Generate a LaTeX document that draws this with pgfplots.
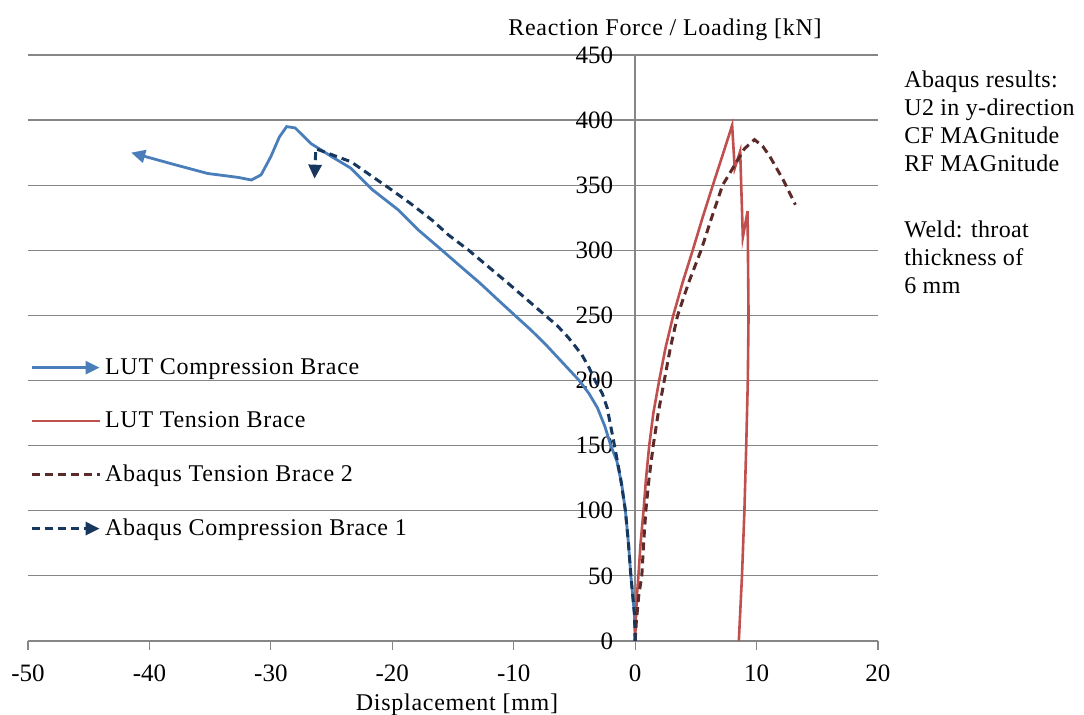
\documentclass[border=0pt]{standalone}
\usepackage{fontspec}
\setmainfont{Liberation Serif}
\usepackage{pgfplots}
\pgfplotsset{compat=1.18}
\usetikzlibrary{arrows.meta}

\definecolor{lutblue}{RGB}{74,126,187}
\definecolor{lutred}{RGB}{192,80,77}
\definecolor{abqred}{RGB}{92,42,42}
\definecolor{abqnavy}{RGB}{23,55,94}
\definecolor{gridgray}{RGB}{134,134,134}

\newcommand{\chfont}{\fontsize{12}{14}\selectfont\addfontfeatures{LetterSpace=3}}
\newcommand{\notefont}{\fontsize{12}{14}\selectfont\addfontfeatures{LetterSpace=1.5}}
\newcommand{\tkfont}{\fontsize{12.5}{14}\selectfont}

\begin{document}
\begin{tikzpicture}
\begin{axis}[
  at={(0,0)}, anchor=south west,
  scale only axis,
  width=425pt, height=293pt,
  xmin=-50, xmax=20, ymin=0, ymax=450,
  axis x line=bottom, axis y line=middle,
  hide obscured x ticks=false, hide obscured y ticks=false,
  axis line style={-, draw=gridgray, line width=0.8pt},
  xtick={-50,-40,...,20}, ytick={0,50,...,450},
  tick align=outside,
  major tick length=4.5pt,
  tick style={draw=gridgray, line width=0.6pt},
  ymajorgrids,
  grid style={draw=gridgray, line width=0.6pt},
  /pgf/number format/assume math mode=true,
  tick label style={font=\tkfont},
  xticklabel style={yshift=-4pt},
  yticklabel style={anchor=east, xshift=-3pt},
  legend style={at={(rel axis cs:0.002,0.497)}, anchor=north west,
    draw=none, fill=none, font=\chfont, row sep=13.2pt,
    inner xsep=0pt, cells={anchor=west}},
  legend image code/.code={\draw[#1] (0pt,0pt) -- (34pt,0pt);},
  every axis plot/.append style={mark=none},
]
% LUT Compression Brace
\addplot[lutblue, line width=1.4pt, -{Triangle[length=7pt,width=6.5pt]}] coordinates {
(0,0) (-0.05,20) (-0.2,35) (-0.35,50) (-0.55,75) (-0.8,100) (-1.1,120) (-1.5,138)
(-2.0,150) (-2.5,165) (-3.1,179) (-3.8,190) (-4.6,200) (-5.8,212) (-7.4,228)
(-8.6,239) (-9.9,250) (-11.3,262) (-12.8,275) (-14.3,287) (-15.9,300) (-17.9,316)
(-19.5,331) (-21.7,347) (-23.4,363) (-25.0,372) (-26.7,382) (-28.0,394) (-28.7,395)
(-29.3,387) (-30.0,372) (-30.8,358) (-31.6,354) (-32.7,356) (-35.2,359) (-38.0,366) (-41.5,375)
};
\addlegendentry{LUT Compression Brace}
% LUT Tension Brace
\addplot[lutred, line width=1.3pt] coordinates {
(0,0) (0.05,15) (0.15,35) (0.27,50) (0.45,75) (0.69,100) (0.9,125) (1.16,150)
(1.5,175) (1.98,200) (2.5,225) (3.14,250) (3.9,275) (4.74,300) (5.55,325)
(6.4,350) (7.2,373) (7.99,396) (8.2,363) (8.65,376) (8.87,310) (9.26,330)
(9.34,250) (9.28,200) (9.15,150) (9.0,100) (8.8,50) (8.54,0)
};
\addlegendentry{LUT Tension Brace}
% Abaqus Tension Brace 2
\addplot[abqred, line width=1.5pt, dash pattern=on 4pt off 2.5pt] coordinates {
(0,0) (0.1,15) (0.3,35) (0.55,50) (0.7,75) (0.88,100) (1.15,125) (1.49,150)
(1.9,175) (2.4,200) (2.9,225) (3.5,250) (4.4,275) (5.43,300) (6.3,325) (7.2,350)
(8.3,367) (9.0,378) (9.83,385) (10.5,380) (11.1,372) (12.2,354) (13.2,335)
};
\addlegendentry{Abaqus Tension Brace 2}
% Abaqus Compression Brace 1
\addplot[abqnavy, line width=1.5pt, dash pattern=on 4pt off 2.5pt, -{Triangle[length=7pt,width=6.5pt]}] coordinates {
(0,0) (-0.05,20) (-0.2,35) (-0.35,50) (-0.55,75) (-0.8,100) (-1.2,125) (-1.7,150)
(-2.3,179) (-2.7,190) (-3.3,200) (-3.8,210) (-4.4,220) (-5.5,233) (-6.4,242)
(-7.4,250) (-10.5,275) (-13.7,300) (-15.4,312) (-16.7,323) (-18.5,336)
(-20.3,348) (-23.4,368) (-26.3,378) (-26.4,355)
};
\addlegendentry{Abaqus Compression Brace 1}
\end{axis}
\node[font=\chfont] at (318.5pt,305.5pt) {Reaction Force / Loading [kN]};
\node[font=\chfont] at (214.5pt,-32pt) {Displacement [mm]};
\node[font=\notefont, align=left, anchor=north west, inner sep=0pt]
  at (438pt,285.5pt) {Abaqus results:\\U2 in y-direction\\CF MAGnitude\\RF MAGnitude\\[19pt]Weld: throat\\thickness of\\6 mm};
\pgfresetboundingbox
\path[use as bounding box] (-14pt,-37pt) rectangle (528pt,320.5pt);
\end{tikzpicture}
\end{document}
